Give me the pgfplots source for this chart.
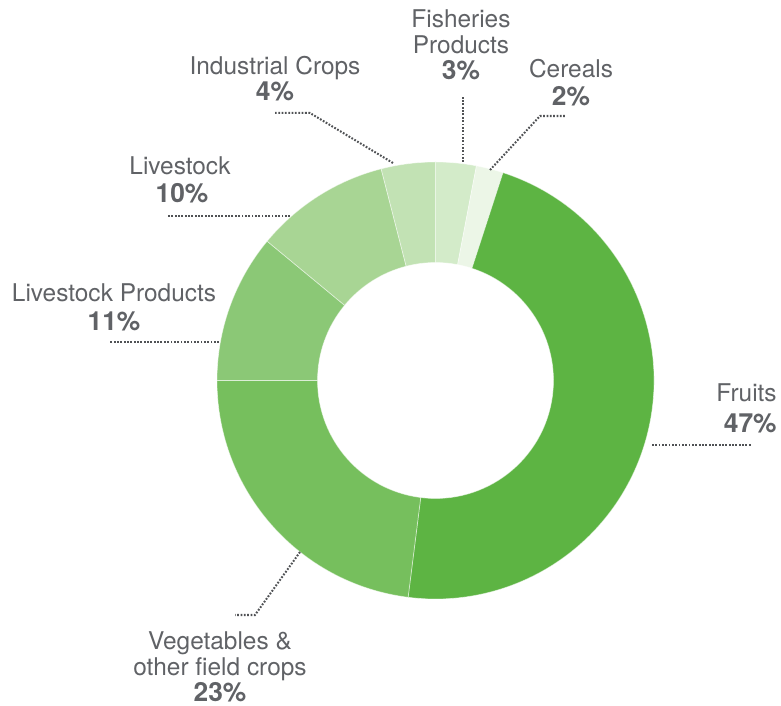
\documentclass[border=0pt]{standalone}
\usepackage{fontspec}
\setmainfont{TeX Gyre Heros}
\usepackage{pgfplots}
\usepackage{pgfplotstable}
\pgfplotsset{compat=1.18}

\definecolor{txt}{HTML}{606266}
\definecolor{lead}{HTML}{505255}
\definecolor{s0}{HTML}{D3EBC9} % Fisheries
\definecolor{s1}{HTML}{ECF6E7} % Cereals
\definecolor{s2}{HTML}{5DB443} % Fruits
\definecolor{s3}{HTML}{76BF5D} % Vegetables
\definecolor{s4}{HTML}{8BC876} % Livestock products
\definecolor{s5}{HTML}{A8D594} % Livestock
\definecolor{s6}{HTML}{C2E2B4} % Industrial crops

% shares in percent, clockwise from 12 o'clock
\pgfplotstableread{
name value
Fisheries 3
Cereals 2
Fruits 47
Vegetables 23
LivestockProducts 11
Livestock 10
IndustrialCrops 4
}\shares

\newcommand{\lab}{\fontsize{13.9pt}{15.4pt}\selectfont\color{txt}}
\newcommand{\pct}{\fontsize{15pt}{16pt}\selectfont\bfseries\color{txt}}

\begin{document}
\begin{tikzpicture}
\def\Ro{218.5}\def\Ri{118}
% start / end angle of each slice
\gdef\curangle{90}
\pgfplotsforeachungrouped \i in {0,...,6}{%
  \pgfplotstablegetelem{\i}{value}\of\shares
  \pgfmathsetmacro\nextangle{\curangle-3.6*\pgfplotsretval}%
  \expandafter\xdef\csname sa\i\endcsname{\curangle}%
  \expandafter\xdef\csname ea\i\endcsname{\nextangle}%
  \xdef\curangle{\nextangle}%
}
\begin{axis}[
  x=0.02cm, y=0.02cm,
  xmin=0, xmax=781, ymin=0, ymax=706,
  hide axis, clip=false, disabledatascaling,
]
\path (axis cs:0,0) rectangle (axis cs:781,706);

\pgfplotsinvokeforeach{0,...,6}{
  \fill[s#1, draw=white, draw opacity=0.5, line width=0.4pt, shift={(axis cs:435.5,325.5)}]
    (\csname sa#1\endcsname:\Ro)
    arc[start angle=\csname sa#1\endcsname, end angle=\csname ea#1\endcsname, radius=\Ro]
    -- (\csname ea#1\endcsname:\Ri)
    arc[start angle=\csname ea#1\endcsname, end angle=\csname sa#1\endcsname, radius=\Ri]
    -- cycle;
}

% leader lines
\begin{scope}[lead, line width=1.15pt, dash pattern=on 1pt off 0.9pt]
\draw (axis cs:463,544) -- (axis cs:463,609);
\draw (axis cs:490,536) -- (axis cs:540,590) -- (axis cs:565,590);
\draw (axis cs:652,261) -- (axis cs:752,261);
\draw (axis cs:300,154) -- (axis cs:255,91) -- (axis cs:235,91);
\draw (axis cs:219,364) -- (axis cs:110,364);
\draw (axis cs:290,490) -- (axis cs:167,490);
\draw (axis cs:393,543) -- (axis cs:310,593) -- (axis cs:275,593);
\end{scope}

% labels
\begin{scope}[every node/.style={inner sep=0pt, anchor=base}]
\node at (axis cs:461,678) {\lab Fisheries};
\node at (axis cs:461,652) {\lab Products};
\node at (axis cs:461,626) {\pct 3\%};
\node at (axis cs:571,628) {\lab Cereals};
\node at (axis cs:571,600) {\pct 2\%};
\node at (axis cs:275,631) {\lab Industrial Crops};
\node at (axis cs:275,605) {\pct 4\%};
\node at (axis cs:180,531) {\lab Livestock};
\node at (axis cs:182,503) {\pct 10\%};
\node at (axis cs:114,404) {\lab Livestock Products};
\node at (axis cs:114,375) {\pct 11\%};
\node[anchor=base east] at (axis cs:777,304) {\lab Fruits};
\node[anchor=base east] at (axis cs:777,273) {\pct 47\%};
\node at (axis cs:220,56) {\lab Vegetables \&};
\node at (axis cs:220,30) {\lab other field crops};
\node at (axis cs:220,4) {\pct 23\%};
\end{scope}
\end{axis}
\end{tikzpicture}
\end{document}
